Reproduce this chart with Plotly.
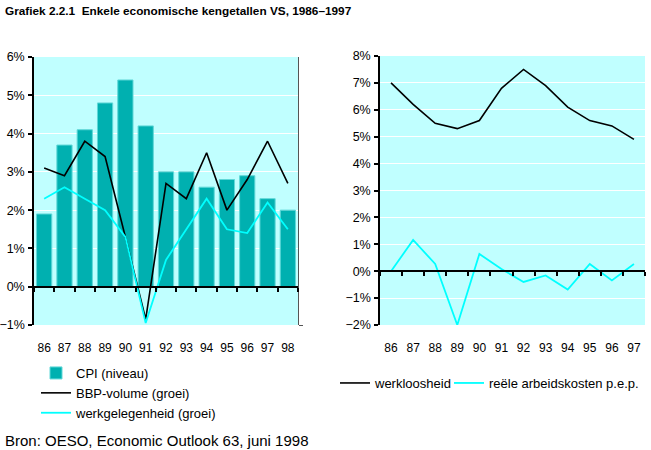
import plotly.graph_objects as go

# ---- data ----
years_left = ["86", "87", "88", "89", "90", "91", "92", "93", "94", "95", "96", "97", "98"]
cpi_niveau = [1.9, 3.7, 4.1, 4.8, 5.4, 4.2, 3.0, 3.0, 2.6, 2.8, 2.9, 2.3, 2.0]
bbp_volume = [3.1, 2.9, 3.8, 3.4, 1.3, -0.85, 2.7, 2.3, 3.5, 2.0, 2.8, 3.8, 2.7]
werkgelegenheid = [2.3, 2.6, 2.3, 2.0, 1.3, -0.95, 0.7, 1.5, 2.3, 1.5, 1.4, 2.2, 1.5]

years_right = ["86", "87", "88", "89", "90", "91", "92", "93", "94", "95", "96", "97"]
werkloosheid = [7.0, 6.2, 5.5, 5.3, 5.6, 6.8, 7.5, 6.9, 6.1, 5.6, 5.4, 4.9]
arbeidskosten = [0.0, 1.16, 0.27, -2.0, 0.64, 0.08, -0.4, -0.16, -0.68, 0.27, -0.34, 0.27]

left_range = [-1, 6]
right_range = [-2, 8]

W, H = 651, 450
FONT = "Liberation Sans"
BG = "#c0ffff"
BAR = "#00b0b0"
CYAN = "#00ffff"

def px_x(p):
    return p / W

def px_y(p):
    return 1 - p / H

xl = [px_x(34), px_x(298)]
yl = [px_y(325), px_y(57)]
xr = [px_x(380), px_x(645)]
yr = [px_y(325), px_y(56)]

zero_l = yl[0] + (0 - left_range[0]) / (left_range[1] - left_range[0]) * (yl[1] - yl[0])
zero_r = yr[0] + (0 - right_range[0]) / (right_range[1] - right_range[0]) * (yr[1] - yr[0])

fig = go.Figure()

fig.add_trace(go.Bar(
    x=years_left, y=cpi_niveau, name="CPI (niveau)",
    marker=dict(color=BAR, line=dict(color="#60d8d8", width=1)),
    xaxis="x", yaxis="y", legend="legend",
))
fig.add_trace(go.Scatter(
    x=years_left, y=bbp_volume, name="BBP-volume (groei)", mode="lines",
    line=dict(color="black", width=1.6), xaxis="x3", yaxis="y3", legend="legend",
))
fig.add_trace(go.Scatter(
    x=years_left, y=werkgelegenheid, name="werkgelegenheid (groei)", mode="lines",
    line=dict(color=CYAN, width=1.8), xaxis="x3", yaxis="y3", legend="legend",
))
fig.add_trace(go.Scatter(
    x=years_right, y=werkloosheid, name="werkloosheid", mode="lines",
    line=dict(color="black", width=1.6), xaxis="x2", yaxis="y2", legend="legend2",
))
fig.add_trace(go.Scatter(
    x=years_right, y=arbeidskosten, name="reële arbeidskosten p.e.p.", mode="lines",
    line=dict(color=CYAN, width=1.8), xaxis="x4", yaxis="y2", legend="legend3",
))

label_axis = dict(type="category", showline=False, ticks="", showgrid=False,
                  zeroline=False, tickfont=dict(size=12, color="black"),
                  ticklabelstandoff=14, automargin=False)
tick_axis = dict(type="category", anchor="free", showline=True, linecolor="black",
                 linewidth=2, ticks="outside", tickson="boundaries", ticklen=4,
                 tickwidth=1.5, tickcolor="black", showticklabels=False,
                 showgrid=False, zeroline=False, automargin=False)
value_axis = dict(dtick=1, ticksuffix="%", showline=True, linecolor="black",
                  linewidth=1.5, ticks="outside", ticklen=4, tickwidth=1.5,
                  tickcolor="black", showgrid=True, gridcolor="white", gridwidth=1,
                  zeroline=False, tickfont=dict(size=12.5, color="black"),
                  ticklabelstandoff=1, automargin=False)

legend_common = dict(xanchor="left", yanchor="top", font=dict(size=13),
                     bgcolor="rgba(0,0,0,0)", itemwidth=30)

fig.update_layout(
    width=W, height=H,
    margin=dict(l=0, r=0, t=0, b=0, autoexpand=False),
    paper_bgcolor="white", plot_bgcolor=BG,
    font=dict(family=FONT, color="black"),
    bargap=0.25,
    showlegend=True,
    xaxis=dict(domain=xl, anchor="y", range=[-0.5, len(years_left) - 0.5], **label_axis),
    yaxis=dict(domain=yl, anchor="x", range=left_range, **value_axis),
    xaxis3=dict(overlaying="x", position=zero_l, range=[-0.5, len(years_left) - 0.5], **tick_axis),
    yaxis3=dict(overlaying="y", anchor="x", side="right", range=left_range,
                showline=True, linecolor="#555555", linewidth=1, ticks="outside",
                tickvals=[left_range[0]], ticklen=4, tickcolor="#555555",
                showticklabels=False, showgrid=False, zeroline=False, automargin=False),
    xaxis2=dict(domain=xr, anchor="y2", range=[-0.5, len(years_right) - 0.5], **label_axis),
    yaxis2=dict(domain=yr, anchor="x2", range=right_range, **value_axis),
    xaxis4=dict(overlaying="x2", position=zero_r, range=[-0.5, len(years_right) - 0.5], **tick_axis),
    legend=dict(x=px_x(36), y=px_y(358), orientation="v", tracegroupgap=0, **legend_common),
    legend2=dict(x=px_x(335), y=px_y(368), orientation="h", **legend_common),
    legend3=dict(x=px_x(449), y=px_y(368), orientation="h", **legend_common),
    annotations=[
        dict(text="<b>Grafiek 2.2.1  Enkele economische kengetallen VS, 1986–1997</b>",
             xref="paper", yref="paper", x=px_x(3), y=px_y(2), xanchor="left",
             yanchor="top", showarrow=False, font=dict(size=11.8, color="black")),
        dict(text="Bron: OESO, Economic Outlook 63, juni 1998",
             xref="paper", yref="paper", x=px_x(3), y=px_y(440), xanchor="left",
             yanchor="middle", showarrow=False, font=dict(size=15, color="black")),
    ],
)

fig.write_html("out.html", config={"displayModeBar": False},
               post_script="document.body.style.margin='0';")
